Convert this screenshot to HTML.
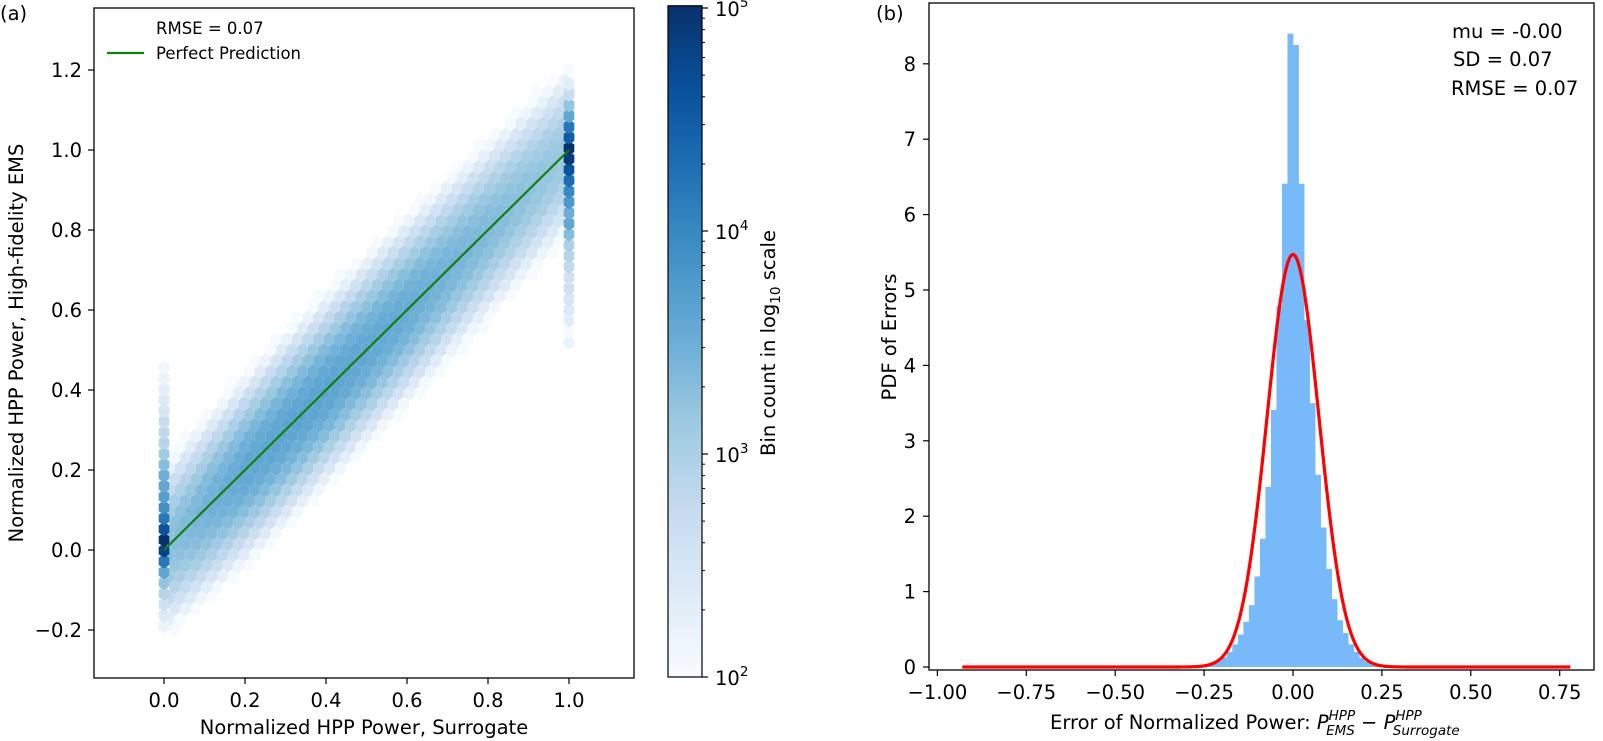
<!DOCTYPE html>
<html><head><meta charset="utf-8">
<style>
html,body{margin:0;padding:0;background:#fff;}
svg{display:block;font-family:"DejaVu Sans","Liberation Sans",sans-serif;}
</style></head>
<body>
<svg id="fig" width="1603" height="741" viewBox="0 0 1603 741" xmlns="http://www.w3.org/2000/svg">
  <g id="hexLayer"></g>
  <g id="histLayer"></g>
  <g id="axesLayer"></g>
</svg>
<script>
// ---------- data: panel (a) hexbin ----------
const leftColLog = [2.2,2.4,2.6,2.9,3.2,3.6,4.2,4.8,5.0,4.6,4.2,3.9,3.7,3.6,3.5,3.3,3.1,2.9,2.8,2.7,2.5,2.4,2.3,2.2,2.1];
const leftColStart = -0.19;
const rightColLog = [2.2,2.0,2.3,2.4,2.5,2.6,2.6,2.8,2.9,3.0,3.3,3.6,3.5,3.8,4.0,4.3,4.6,4.9,5.0,4.5,4.2,3.6,3.2,2.7,2.3];
const rightColStart = 0.52;
const bandPeakByX = [3.25,3.45,3.6,3.65,3.65,3.6,3.55,3.45,3.35,3.25,3.15];
const bandSigma = [0.087];
const xTicksA = [0.0,0.2,0.4,0.6,0.8,1.0];
const yTicksA = [-0.2,0.0,0.2,0.4,0.6,0.8,1.0,1.2];
const cbTicks = [2,3,4,5];
// ---------- data: panel (b) histogram ----------
const binWidth = [0.0155];
const histLeft = [8.4,6.41,4.79,3.41,2.39,1.70,1.2,0.82,0.6,0.43,0.3,0.2,0.13,0.08,0.05,0.03,0.02];
const histRight = [8.25,6.41,4.6,3.5,2.55,1.85,1.3,0.9,0.62,0.45,0.3,0.2,0.12,0.07,0.04,0.02];
const fitMu = [0.0];
const fitSd = [0.0729];
const fitRange = [-0.93,0.78];
const xTicksB = [-1.0,-0.75,-0.5,-0.25,0.0,0.25,0.5,0.75];
const yTicksB = [0,1,2,3,4,5,6,7,8];

const NS="http://www.w3.org/2000/svg";
function mk(tag,attrs,parent){const e=document.createElementNS(NS,tag);for(const k in attrs)e.setAttribute(k,attrs[k]);parent.appendChild(e);return e;}
const axA={l:94,r:634,t:8,b:678};
const xA=v=>164+v*405, yA=v=>550-v*400;
const axB={l:929,r:1594,t:3,b:670};
const xB=v=>1293+v*355.6, yB=v=>667-v*75.4;
const cbY=v=>677-(v-2)*223;
const blues=[[247,251,255],[222,235,247],[198,219,239],[158,202,225],[107,174,214],[66,146,198],[33,113,181],[8,81,156],[8,48,107]];
function cmap(t){t=Math.max(0,Math.min(1,t));const p=t*8,i=Math.min(7,Math.floor(p)),f=p-i;const a=blues[i],b=blues[i+1];
 return `rgb(${Math.round(a[0]+(b[0]-a[0])*f)},${Math.round(a[1]+(b[1]-a[1])*f)},${Math.round(a[2]+(b[2]-a[2])*f)})`;}
const logTop=5.01;
const colorOf=lg=>cmap((lg-2)/(logTop-2));

const hexL=document.getElementById('hexLayer');
const clip=mk('clipPath',{id:'clipA'},hexL);mk('rect',{x:axA.l,y:axA.t,width:axA.r-axA.l,height:axA.b-axA.t},clip);
const hg=mk('g',{'clip-path':'url(#clipA)'},hexL);
const sx=1/38, sy=1.4/26;
function hexPts(cx,cy){const w=sx*405,h=sy*400/3;const X=xA(cx),Y=yA(cy);
 const v=[[.5,-.5],[.5,.5],[0,1],[-.5,.5],[-.5,-.5],[0,-1]];return v.map(p=>(X+p[0]*w).toFixed(2)+','+(Y+p[1]*h).toFixed(2)).join(' ');}
function bandLog(x,y){const fi=Math.max(0,Math.min(10,x*10));const i=Math.min(9,Math.floor(fi)),f=fi-i;
 const pk=bandPeakByX[i]+(bandPeakByX[i+1]-bandPeakByX[i])*f;const d=y-x;return pk-Math.log10(Math.E)*d*d/(2*bandSigma[0]*bandSigma[0]);}
for(let lat=0;lat<2;lat++){
 for(let i=-1;i<=39;i++){for(let j=-1;j<=27;j++){
  const cx=(i+lat*0.5)*sx, cy=-0.2+(j+lat*0.5)*sy;
  if(cx<0.005||cx>1.0)continue;
  const lg=bandLog(cx,cy); if(lg<1.75)continue;
  const p=mk('polygon',{points:hexPts(cx,cy),fill:colorOf(lg)},hg);
  
  
 }}
}
function drawCol(arr,start,xv){arr.forEach((lg,k)=>{const cy=start+k*sy/2;
 const p=mk('polygon',{points:hexPts(xv,cy),fill:colorOf(lg)},hg);
 
 });}
drawCol(leftColLog,leftColStart,0);
drawCol(rightColLog,rightColStart,1);
const pl=mk('line',{x1:xA(0),y1:yA(0),x2:xA(1),y2:yA(1),stroke:'#118011','stroke-width':2.2},hexL);



// ---------- histogram ----------
const hl=document.getElementById('histLayer');
const w=binWidth[0];
histLeft.forEach((v,k)=>{const x0=-(k+1)*w;
 const r=mk('rect',{x:xB(x0),y:yB(v),width:xB(x0+w)-xB(x0)+0.4,height:yB(0)-yB(v),fill:'#78b9fa'},hl);
 
 });
histRight.forEach((v,k)=>{const x0=k*w;
 const r=mk('rect',{x:xB(x0),y:yB(v),width:xB(x0+w)-xB(x0)+0.4,height:yB(0)-yB(v),fill:'#78b9fa'},hl);
 
 });
let d='';for(let k=0;k<=400;k++){const x=fitRange[0]+(fitRange[1]-fitRange[0])*k/400;
 const yv=Math.exp(-0.5*((x-fitMu[0])/fitSd[0])**2)/(fitSd[0]*Math.sqrt(2*Math.PI));
 d+=(k?'L':'M')+xB(x).toFixed(2)+','+yB(yv).toFixed(2);}
const cur=mk('path',{d:d,fill:'none',stroke:'#f00','stroke-width':3.2,'stroke-linejoin':'round'},hl);



// ---------- axes ----------
const ax=document.getElementById('axesLayer');
function txt(s,attrs,name){const t=mk('text',attrs,ax);t.textContent=s;return t;}
const fA=mk('rect',{x:axA.l,y:axA.t,width:axA.r-axA.l,height:axA.b-axA.t,fill:'none',stroke:'#000','stroke-width':1.3},ax);

xTicksA.forEach(v=>{mk('line',{x1:xA(v),x2:xA(v),y1:axA.b,y2:axA.b+6,stroke:'#000','stroke-width':1.2},ax);
 txt(v.toFixed(1),{x:xA(v),y:707,'font-size':19.5,'text-anchor':'middle'},'x-tick-label');});
yTicksA.forEach(v=>{mk('line',{x1:axA.l-6,x2:axA.l,y1:yA(v),y2:yA(v),stroke:'#000','stroke-width':1.2},ax);
 txt((v<0?'\u2212':'')+Math.abs(v).toFixed(1),{x:82,y:yA(v)+7,'font-size':19.5,'text-anchor':'end'},'y-tick-label');});
txt('Normalized HPP Power, Surrogate',{x:364,y:734,'font-size':19.5,'text-anchor':'middle'},'x-axis-title');
txt('Normalized HPP Power, High-fidelity EMS',{x:0,y:0,'font-size':19.5,'text-anchor':'middle',transform:'translate(23,343) rotate(-90)'},'y-axis-title');
txt('(a)',{x:0,y:20,'font-size':19.5},'panel-label-a');
txt('RMSE = 0.07',{x:156,y:34,'font-size':16.5},'legend-rmse');
const lgl=mk('line',{x1:107,x2:144,y1:53,y2:53,stroke:'#118011','stroke-width':2.2},ax);

txt('Perfect Prediction',{x:156,y:59,'font-size':16.5},'legend-entry');
const gr=mk('linearGradient',{id:'cbg',x1:0,y1:1,x2:0,y2:0},ax);
for(let k=0;k<=16;k++)mk('stop',{offset:k/16,'stop-color':cmap(k/16)},gr);
const cb=mk('rect',{x:668,y:cbY(logTop),width:34,height:cbY(2)-cbY(logTop),fill:'url(#cbg)',stroke:'#000','stroke-width':1.2},ax);

cbTicks.forEach(v=>{mk('line',{x1:702,x2:708,y1:cbY(v),y2:cbY(v),stroke:'#000','stroke-width':1.2},ax);
 const t=txt('10',{x:715,y:cbY(v)+8,'font-size':19.5},'colorbar-tick-label');
 const s=mk('tspan',{dy:-9,'font-size':13.5},t);s.textContent=String(v);});
for(let dd=2;dd<5;dd++)for(let m=2;m<10;m++){const yv=cbY(dd+Math.log10(m));mk('line',{x1:702,x2:705,y1:yv,y2:yv,stroke:'#000','stroke-width':1},ax);}
const ct=txt('Bin count in log',{x:0,y:0,'font-size':19.5,'text-anchor':'middle',transform:'translate(775,343) rotate(-90)'},'colorbar-title');
const sb=mk('tspan',{dy:5,'font-size':13.5},ct);sb.textContent='10';
const sb2=mk('tspan',{dy:-5},ct);sb2.textContent=' scale';
const fB=mk('rect',{x:axB.l,y:axB.t,width:axB.r-axB.l,height:axB.b-axB.t,fill:'none',stroke:'#000','stroke-width':1.3},ax);

xTicksB.forEach(v=>{mk('line',{x1:xB(v),x2:xB(v),y1:axB.b,y2:axB.b+6,stroke:'#000','stroke-width':1.2},ax);
 txt((v<0?'\u2212':'')+Math.abs(v).toFixed(2),{x:xB(v),y:699,'font-size':19.5,'text-anchor':'middle'},'x-tick-label');});
yTicksB.forEach(v=>{mk('line',{x1:axB.l-6,x2:axB.l,y1:yB(v),y2:yB(v),stroke:'#000','stroke-width':1.2},ax);
 txt(String(v),{x:916,y:yB(v)+7,'font-size':19.5,'text-anchor':'end'},'y-tick-label');});
txt('PDF of Errors',{x:0,y:0,'font-size':19.5,'text-anchor':'middle',transform:'translate(896,337) rotate(-90)'},'y-axis-title-b');
txt('(b)',{x:876,y:20,'font-size':19.5},'panel-label-b');
const xt=txt('Error of Normalized Power: ',{x:1050,y:729,'font-size':19.5},'x-axis-title-b');
function it(parent,s,attrs){const e=mk('tspan',attrs,parent);e.textContent=s;return e;}
it(xt,'P',{'font-style':'italic'});
it(xt,'HPP',{'font-style':'italic','font-size':13.5,dy:-9});
it(xt,'EMS',{'font-style':'italic','font-size':13.5,dx:-29,dy:15});
it(xt,' \u2212 ',{dy:-6});
it(xt,'P',{'font-style':'italic'});
it(xt,'HPP',{'font-style':'italic','font-size':13.5,dy:-9});
it(xt,'Surrogate',{'font-style':'italic','font-size':13.5,dx:-29,dy:15});
txt('mu = -0.00',{x:1452,y:38,'font-size':19.5},'stat-mu');
txt('SD = 0.07',{x:1453,y:66,'font-size':19.5},'stat-sd');
txt('RMSE = 0.07',{x:1451,y:95,'font-size':19.5},'stat-rmse');
</script>
</body></html>
